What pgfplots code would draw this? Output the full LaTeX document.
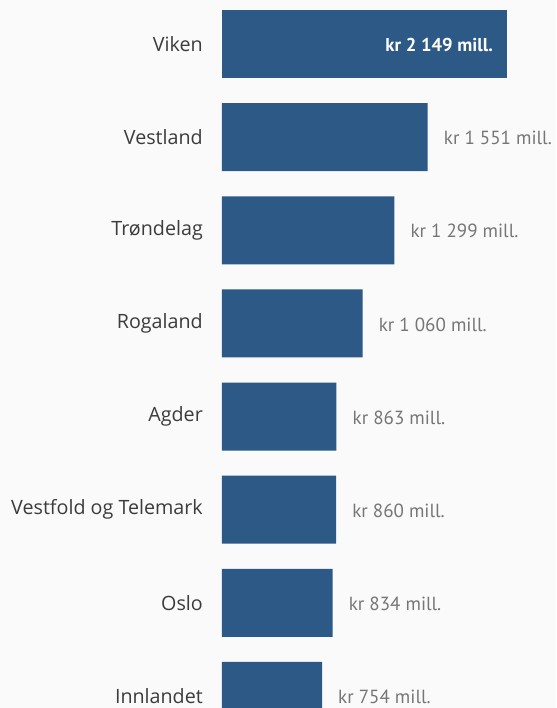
\documentclass[border=0pt]{standalone}
\usepackage{fontspec}
\setmainfont{Open Sans}
\newfontfamily\valfont{PT Sans}
\usepackage{pgfplots}
\pgfplotsset{compat=1.18}
\definecolor{bar}{HTML}{2C5985}
\definecolor{bg}{HTML}{FAFAFA}
\definecolor{lab}{HTML}{3C3C3C}
\definecolor{val}{HTML}{767676}
\begin{document}
\begin{tikzpicture}
\fill[bg] (-222pt,0) rectangle (334pt,708pt);
\begin{axis}[
  scale only axis,
  width=334pt, height=708pt,
  xmin=0, xmax=2518,
  ymin=-0.472, ymax=7.129,
  y dir=reverse,
  axis line style={draw=none},
  xtick=\empty,
  ytick={0,1,2,3,4,5,6,7},
  yticklabels={Viken,Vestland,Tr{\o}ndelag,Rogaland,Agder,Vestfold og Telemark,Oslo,Innlandet},
  yticklabel style={font=\fontsize{19.7}{22}\selectfont, text=lab, inner sep=0pt, xshift=-19pt},
  major tick length=0pt,
  xbar, bar width=68pt, bar shift=0pt,
  point meta=explicit symbolic,
  nodes near coords,
]
\addplot[fill=bar, draw=none,
  every node near coord/.append style={font=\valfont\fontsize{18.6}{20}\selectfont\bfseries, text=white, anchor=east, xshift=-14pt, inner sep=0pt, yshift=-1pt}]
  coordinates {(2149,0) [kr 2 149 mill.]};
\addplot[fill=bar, draw=none,
  every node near coord/.append style={font=\valfont\fontsize{19}{21}\selectfont, text=val, anchor=west, xshift=16pt, inner sep=0pt, yshift=-1pt}]
  coordinates {
    (1551,1) [kr 1 551 mill.]
    (1299,2) [kr 1 299 mill.]
    (1060,3) [kr 1 060 mill.]
    (863,4) [kr 863 mill.]
    (860,5) [kr 860 mill.]
    (834,6) [kr 834 mill.]
    (754,7) [kr 754 mill.]
  };
\end{axis}
\pgfresetboundingbox
\path[use as bounding box] (-222pt,0) rectangle (334pt,708pt);
\end{tikzpicture}
\end{document}
